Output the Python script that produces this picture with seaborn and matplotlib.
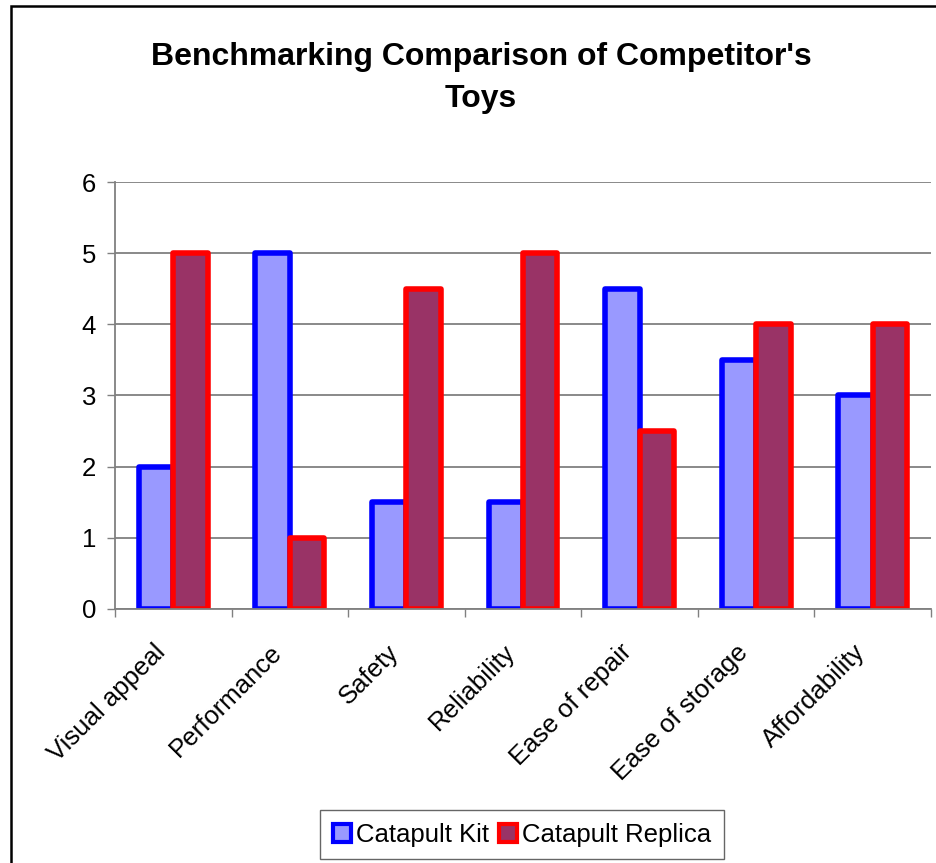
import numpy as np
import pandas as pd
import matplotlib.pyplot as plt
import seaborn as sns
from matplotlib.patches import Patch, Rectangle
from matplotlib.transforms import ScaledTranslation

# data
categories = ["Visual appeal", "Performance", "Safety", "Reliability",
              "Ease of repair", "Ease of storage", "Affordability"]
kit = [2, 5, 1.5, 1.5, 4.5, 3.5, 3]
replica = [5, 1, 4.5, 5, 2.5, 4, 4]
series = ["Catapult Kit", "Catapult Replica"]
fills = ["#9999FF", "#993366"]
edges = ["#0000FF", "#FF0000"]

df = pd.DataFrame({
    "category": categories * 2,
    "score": kit + replica,
    "series": [series[0]] * len(categories) + [series[1]] * len(categories),
})

sns.set_style("white", {"text.color": "black", "xtick.color": "black",
                        "ytick.color": "black"})
plt.rcParams['font.family'] = ['Liberation Sans', 'DejaVu Sans']

fig = plt.figure(figsize=(9.37, 8.63), dpi=100)
ax = fig.add_axes([115 / 937, 1 - 609 / 863, (931 - 115) / 937, (609 - 182) / 863])

sns.barplot(data=df, x="category", y="score", hue="series", palette=fills,
            width=0.59, linewidth=4, saturation=1, legend=False, ax=ax)

# outline colour per series
for cont, ec in zip(ax.containers, edges):
    for bar in cont:
        bar.set_edgecolor(ec)
        bar.set_joinstyle('round')

ax.set_ylim(0, 6)
ax.set_xlim(-0.5, len(categories) - 0.5)
ax.set_yticks(range(0, 7))
ax.yaxis.grid(True, color="#808080", linewidth=1.3)
ax.set_axisbelow(True)
ax.set_xlabel("")
ax.set_ylabel("")

for s in ["top", "right"]:
    ax.spines[s].set_visible(False)
for s in ["left", "bottom"]:
    ax.spines[s].set_color("#808080")
    ax.spines[s].set_linewidth(1.3)

ax.tick_params(axis="y", which="major", left=True, length=5.5, width=1,
               color="#808080", labelcolor="black", labelsize=18.5, pad=8)
ax.tick_params(axis="x", which="major", length=0, labelsize=18.5, pad=0,
               labelcolor="black")
ax.set_xticks(np.arange(-0.5, len(categories)), minor=True)
ax.tick_params(axis="x", which="minor", bottom=True, length=5.5, width=1,
               color="#808080")
ax.set_xticks(range(len(categories)))
ax.set_xticklabels(categories, rotation=45, ha="right", va="top",
                   rotation_mode="anchor")
shift = ScaledTranslation(-0.20, -0.31, fig.dpi_scale_trans)
for lab in ax.get_xticklabels():
    lab.set_transform(lab.get_transform() + shift)

fig.text(481 / 937, 1 - 42 / 863,
         "Benchmarking Comparison of Competitor's\nToys",
         ha="center", va="top", fontsize=23, fontweight="bold",
         linespacing=1.5)

handles = [Patch(facecolor=f, edgecolor=e, linewidth=3) for f, e in zip(fills, edges)]
leg = fig.legend(handles, series, loc="center", ncol=2,
                 bbox_to_anchor=(522 / 937, 28.5 / 863), fontsize=18.5,
                 frameon=True, fancybox=False, handlelength=0.7,
                 handleheight=0.7, handletextpad=0.2, columnspacing=0.4,
                 borderpad=0.5, borderaxespad=0)
leg.get_frame().set_edgecolor("#404040")
leg.get_frame().set_linewidth(1)

# outer chart border (runs off the right and bottom)
fig.patches.append(Rectangle((11.5 / 937, -0.1), 2, 1 - 6 / 863 + 0.1,
                             transform=fig.transFigure, fill=False,
                             edgecolor="black", linewidth=1.8))

fig.savefig("out.png", dpi=100)
